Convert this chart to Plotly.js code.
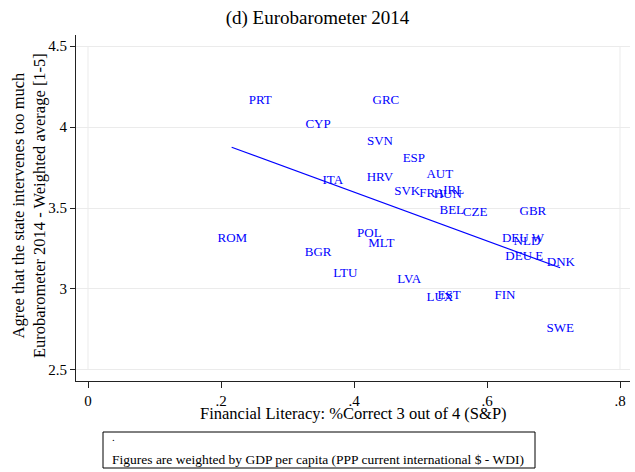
<!DOCTYPE html>
<html>
<head>
<meta charset="utf-8">
<script src="https://cdn.plot.ly/plotly-3.0.1.min.js"></script>
<style>
html,body{margin:0;padding:0;background:#fff;}
#chart{width:635px;height:472px;}
</style>
</head>
<body>
<div id="chart"></div>
<script>
// Country codes and values
const countries = ["PRT","GRC","CYP","SVN","ESP","AUT","HRV","ITA","SVK","FRA","HUN","IRL","BEL","CZE","GBR","POL","MLT","DEU W","NLD","DEU E","DNK","ROM","BGR","LTU","LVA","LUX","EST","FIN","SWE"];
const finLit = [0.259,0.448,0.346,0.439,0.490,0.529,0.439,0.368,0.480,0.517,0.541,0.550,0.547,0.582,0.669,0.423,0.441,0.654,0.660,0.656,0.711,0.217,0.346,0.387,0.483,0.529,0.543,0.627,0.710];
const stateIntervenes = [4.160,4.160,4.012,3.907,3.802,3.704,3.685,3.667,3.599,3.586,3.580,3.605,3.482,3.469,3.475,3.340,3.278,3.309,3.290,3.198,3.160,3.309,3.222,3.093,3.056,2.944,2.957,2.957,2.753];
// Weighted linear fit (endpoints of the fitted line)
const fitX = [0.216, 0.710];
const fitY = [3.875, 3.131];
// Axis ticks
const xTickVals = [0, 0.2, 0.4, 0.6, 0.8];
const xTickText = ["0", ".2", ".4", ".6", ".8"];
const yTickVals = [2.5, 3, 3.5, 4, 4.5];
const yTickText = ["2.5", "3", "3.5", "4", "4.5"];

const serif = "Liberation Serif, Times New Roman, serif";

const traces = [
  {
    x: fitX, y: fitY, type: "scatter", mode: "lines",
    line: {color: "#0000ff", width: 1.2},
    hoverinfo: "skip", showlegend: false
  },
  {
    x: finLit, y: stateIntervenes, type: "scatter", mode: "text",
    text: countries, textposition: "middle center",
    textfont: {family: serif, size: 13, color: "#0000ff"},
    showlegend: false
  }
];

const layout = {
  width: 635, height: 472,
  margin: {l: 76, r: 5, t: 35, b: 91},
  paper_bgcolor: "#fff", plot_bgcolor: "#fff",
  font: {family: serif, color: "#000"},
  title: {
    text: "(d) Eurobarometer 2014",
    font: {family: serif, size: 19, color: "#000"},
    x: 0.5, xref: "container", xanchor: "center",
    y: 1 - 17/472, yref: "container", yanchor: "middle"
  },
  xaxis: {
    range: [-0.01805, 0.815],
    tickvals: xTickVals, ticktext: xTickText,
    ticks: "outside", ticklen: 6, tickcolor: "#222", tickwidth: 1,
    showline: true, linecolor: "#222", linewidth: 1,
    showgrid: false, zeroline: false,
    tickfont: {family: serif, size: 15, color: "#000"}
  },
  yaxis: {
    range: [2.432, 4.568],
    tickvals: yTickVals, ticktext: yTickText,
    ticks: "outside", ticklen: 5, tickcolor: "#222", tickwidth: 1,
    showline: true, linecolor: "#222", linewidth: 1,
    showgrid: true, gridcolor: "#ebebeb", gridwidth: 1,
    zeroline: false,
    tickfont: {family: serif, size: 15, color: "#000"}
  },
  shapes: [
    {type: "line", xref: "x", yref: "y", x0: 0, x1: 0, y0: 2.5, y1: 4.5, line: {color: "#ebebeb", width: 1}, layer: "below"},
    {type: "line", xref: "x", yref: "y", x0: 0.8, x1: 0.8, y0: 2.5, y1: 4.5, line: {color: "#ebebeb", width: 1}, layer: "below"},
    {type: "rect", xref: "paper", yref: "paper", x0: (103-76)/554, x1: (535-76)/554, y0: (381-468)/346, y1: (381-432)/346, line: {color: "#000", width: 1}, fillcolor: "rgba(0,0,0,0)"}
  ],
  annotations: [
    {
      text: "Agree that the state intervenes too much<br>Eurobarometer 2014 - Weighted average [1-5]",
      xref: "paper", yref: "paper", x: (29-76)/554, y: (381-206)/346,
      xanchor: "center", yanchor: "middle", textangle: -90, showarrow: false,
      font: {family: serif, size: 16.5, color: "#000"}
    },
    {
      text: "Financial Literacy: %Correct 3 out of 4 (S&P)",
      xref: "paper", yref: "paper", x: 0.5, y: (381-413)/346,
      xanchor: "center", yanchor: "middle", showarrow: false,
      font: {family: serif, size: 16.5, color: "#000"}
    },
    {
      text: ".",
      xref: "paper", yref: "paper", x: (110-76)/554, y: (381-437)/346,
      xanchor: "left", yanchor: "middle", showarrow: false,
      font: {family: serif, size: 11, color: "#000"}
    },
    {
      text: "Figures are weighted by GDP per capita (PPP current international $ - WDI)",
      xref: "paper", yref: "paper", x: (110-76)/554, y: (381-459)/346,
      xanchor: "left", yanchor: "middle", showarrow: false,
      font: {family: serif, size: 13.5, color: "#000"}
    }
  ]
};

Plotly.newPlot("chart", traces, layout, {displayModeBar: false, staticPlot: true});
</script>
</body>
</html>
